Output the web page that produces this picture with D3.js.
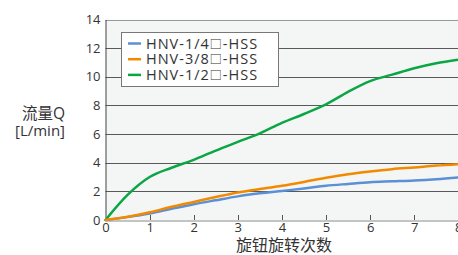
<!DOCTYPE html>
<html>
<head>
<meta charset="utf-8">
<script src="https://cdn.jsdelivr.net/npm/d3@7"></script>
<style>
  body { margin: 0; background: #fff; }
  svg { display: block; font-family: "Open Sans", "Noto Sans CJK SC", sans-serif; }
</style>
</head>
<body>
<div id="chart"></div>
<script>
// turns of the knob
var turns = [0, 0.5, 1, 1.5, 2, 2.5, 3, 3.5, 4, 4.5, 5, 5.5, 6, 6.5, 7, 7.5, 8];
var flowQuarter = [0, 0.2, 0.45, 0.78, 1.1, 1.38, 1.65, 1.86, 2.03, 2.2, 2.39, 2.52, 2.64, 2.7, 2.76, 2.85, 2.97];
var flowThreeEighth = [0, 0.22, 0.54, 0.92, 1.26, 1.6, 1.92, 2.16, 2.39, 2.66, 2.95, 3.2, 3.39, 3.55, 3.67, 3.8, 3.9];
var flowHalf = [0, 1.75, 3.0, 3.65, 4.2, 4.85, 5.45, 6.05, 6.78, 7.4, 8.07, 8.95, 9.7, 10.15, 10.6, 10.95, 11.2];
var seriesNames = [["HNV-1/4", "\u25A1", "-HSS"], ["HNV-3/8", "\u25A1", "-HSS"], ["HNV-1/2", "\u25A1", "-HSS"]];
var seriesColors = ["#5b8fd6", "#f28a00", "#0aa644"];
var xTicks = [0, 1, 2, 3, 4, 5, 6, 7, 8];
var yTicks = [0, 2, 4, 6, 8, 10, 12, 14];

var width = 458, height = 255;
var svg = d3.select("#chart").append("svg")
  .attr("width", width)
  .attr("height", height);

var x = d3.scaleLinear().domain([0, 8]).range([105.5, 458.3]);
var y = d3.scaleLinear().domain([0, 14]).range([220, 19.5]);

// plot background
svg.append("rect")
  .attr("x", x(0)).attr("y", y(14))
  .attr("width", x(8) - x(0)).attr("height", y(0) - y(14))
  .style("fill", "#f4f6f6");

// horizontal grid
svg.selectAll(".grid")
  .data(yTicks.filter(function(d){ return d > 0; }))
  .enter().append("line")
  .attr("x1", x(0)).attr("x2", width)
  .attr("y1", function(d){ return Math.round(y(d)) + 0.5; })
  .attr("y2", function(d){ return Math.round(y(d)) + 0.5; })
  .style("stroke", function(d){ return d == 14 ? "#9a9a9a" : "#595959"; })
  .style("stroke-width", 1);

// y axis
var yAxis = svg.append("g")
  .attr("transform", "translate(" + (Math.round(x(0)) - 0.5) + ",0)")
  .call(d3.axisLeft(y).tickValues(yTicks).tickSize(0).tickPadding(5));
yAxis.select(".domain").style("stroke", "#444");
yAxis.selectAll("text").style("font-size", "13px").style("fill", "#333")
  .style("font-family", "'Open Sans', sans-serif");

// x axis
var xAxis = svg.append("g")
  .attr("transform", "translate(0," + (Math.round(y(0)) + 0.5) + ")")
  .call(d3.axisBottom(x).tickValues(xTicks).tickSize(0).tickPadding(2));
xAxis.select(".domain").style("stroke", "#888");
xAxis.selectAll("text").style("font-size", "13px").style("fill", "#333")
  .style("font-family", "'Open Sans', sans-serif");

// small inner ticks
svg.selectAll(".xtick")
  .data(xTicks.filter(function(d){ return d > 0 && d < 8; }))
  .enter().append("line")
  .attr("x1", function(d){ return Math.round(x(d)) + 0.5; })
  .attr("x2", function(d){ return Math.round(x(d)) + 0.5; })
  .attr("y1", y(0)).attr("y2", y(0) - 5)
  .style("stroke", "#555");

// lines
var allSeries = [flowQuarter, flowThreeEighth, flowHalf];
var line = d3.line()
  .x(function(d, i){ return x(turns[i]); })
  .y(function(d){ return y(d); })
  .curve(d3.curveMonotoneX);

// draw green first so the smaller ones are above
[2, 0, 1].forEach(function(k){
  svg.append("path")
    .datum(allSeries[k])
    .attr("d", line)
    .style("fill", "none")
    .style("stroke", seriesColors[k])
    .style("stroke-width", 2.5)
    .style("stroke-linecap", "round");
});

// legend
var legend = svg.append("g");
legend.append("rect")
  .attr("x", 121.5).attr("y", 32.5)
  .attr("width", 157).attr("height", 54)
  .style("fill", "#fff")
  .style("stroke", "#777");
seriesNames.forEach(function(parts, i){
  var ly = 43.5 + i * 15.7;
  legend.append("line")
    .attr("x1", 128).attr("x2", 141)
    .attr("y1", ly).attr("y2", ly)
    .style("stroke", seriesColors[i])
    .style("stroke-width", 2.5);
  var t = legend.append("text")
    .attr("x", 146).attr("y", ly + 5)
    .style("font-size", "14.5px")
    .style("letter-spacing", "1px")
    .style("fill", "#333");
  t.append("tspan").text(parts[0]);
  t.append("tspan").text(parts[1])
    .style("font-family", "'Noto Sans CJK SC'")
    .style("font-size", "12px");
  t.append("tspan").text(parts[2]);
});

// axis titles
svg.append("text")
  .attr("x", 65).attr("y", 118.5)
  .attr("text-anchor", "end")
  .text("流量Q")
  .style("font-size", "15.5px").style("fill", "#333");
svg.append("text")
  .attr("x", 65).attr("y", 135.5)
  .attr("text-anchor", "end")
  .text("[L/min]")
  .style("font-size", "15px").style("fill", "#333");
svg.append("text")
  .attr("x", 284).attr("y", 251)
  .attr("text-anchor", "middle")
  .text("旋钮旋转次数")
  .style("font-size", "16px").style("fill", "#333");
</script>
</body>
</html>
